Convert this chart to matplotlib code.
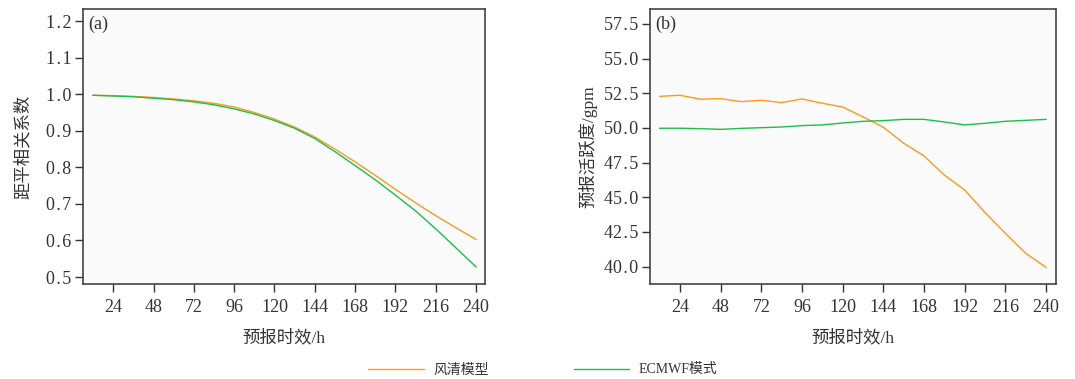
import matplotlib
matplotlib.use("Agg")
import matplotlib.pyplot as plt

# forecast lead times (h)
lead = [12, 24, 36, 48, 60, 72, 84, 96, 108, 120, 132, 144, 156, 168, 180, 192, 204, 216, 228, 240]

# (a) anomaly correlation coefficient
acc_fengqing = [0.997, 0.996, 0.994, 0.991, 0.987, 0.982, 0.975, 0.965, 0.950, 0.932,
                0.910, 0.883, 0.850, 0.815, 0.778, 0.740, 0.703, 0.668, 0.635, 0.603]
acc_ecmwf = [0.997, 0.995, 0.993, 0.989, 0.985, 0.979, 0.971, 0.960, 0.946, 0.928,
             0.907, 0.879, 0.843, 0.805, 0.766, 0.724, 0.681, 0.632, 0.580, 0.528]

# (b) forecast activity (gpm)
act_fengqing = [52.28, 52.36, 52.07, 52.12, 51.90, 52.00, 51.83, 52.09, 51.78, 51.51,
                50.80, 50.05, 48.90, 47.98, 46.60, 45.53, 43.90, 42.40, 40.96, 39.95]
act_ecmwf = [49.98, 49.98, 49.95, 49.90, 49.97, 50.02, 50.07, 50.17, 50.22, 50.36,
             50.48, 50.53, 50.62, 50.62, 50.43, 50.22, 50.34, 50.48, 50.55, 50.62]

series_names = ['风清模型', 'ECMWF模式']
xticks = [24, 48, 72, 96, 120, 144, 168, 192, 216, 240]

ORANGE = '#ff9a1e'
GREEN = '#1ebe4a'
TXT = '#333333'
# serif first for latin text, CJK font picks up the Chinese characters
mixed = ['Liberation Serif', 'Noto Sans CJK SC']
serif = ['Liberation Serif', 'DejaVu Serif']

plt.rcParams['font.family'] = serif
plt.rcParams['text.color'] = TXT
plt.rcParams['axes.labelcolor'] = TXT
plt.rcParams['xtick.color'] = TXT
plt.rcParams['ytick.color'] = TXT


def spaced(v):
    # the original typesetting puts a little room around the decimal point
    return '{:.1f}'.format(v).replace('.', '\u200a.\u200a')


fig = plt.figure(figsize=(10.75, 3.79), dpi=100)
ax_a = fig.add_axes([0.0772, 0.2507, 0.374, 0.7256])
ax_b = fig.add_axes([0.6047, 0.2507, 0.3777, 0.7256])

panels = [
    (ax_a, acc_fengqing, acc_ecmwf, '距平相关系数', (6, 245.4), (0.481, 1.233),
     [0.5, 0.6, 0.7, 0.8, 0.9, 1.0, 1.1, 1.2], '(a)', 10),
    (ax_b, act_fengqing, act_ecmwf, '预报活跃度/gpm', (6.3, 245.9), (38.75, 58.58),
     [40.0, 42.5, 45.0, 47.5, 50.0, 52.5, 55.0, 57.5], '(b)', 5),
]

lines = []
for ax, fq, ec, ylabel, xlim, ylim, yticks, tag, ypad in panels:
    ax.set_facecolor('#fafafa')
    l1, = ax.plot(lead, fq, color=ORANGE, lw=1.0)
    l2, = ax.plot(lead, ec, color=GREEN, lw=1.0)
    lines = [l1, l2]
    ax.set_xlim(*xlim)
    ax.set_ylim(*ylim)
    ax.set_xticks(xticks)
    ax.set_xticklabels([str(v) for v in xticks])
    ax.set_yticks(yticks)
    ax.set_yticklabels([spaced(v) for v in yticks])
    ax.tick_params(labelsize=13, length=5.5, width=1, direction='out')
    ax.tick_params(axis='x', pad=5)
    ax.tick_params(axis='y', pad=3)
    for s in ax.spines.values():
        s.set_color('#444444')
        s.set_linewidth(1.2)
    ax.set_xlabel('预报时效/h', family=mixed, fontsize=12.5, labelpad=10)
    ax.set_ylabel(ylabel, family=mixed, fontsize=12.5, labelpad=ypad)
    ax.text(0.012, 0.975, tag, transform=ax.transAxes, ha='left', va='top',
            fontsize=13, color=TXT)

leg = fig.legend(lines, series_names, loc='center', bbox_to_anchor=(0.505, 0.024),
                 ncol=2, frameon=False, handlelength=4.0, handletextpad=0.7,
                 columnspacing=6.1, prop={'family': mixed, 'size': 10})

fig.savefig('out.png', dpi=100, facecolor='white')
